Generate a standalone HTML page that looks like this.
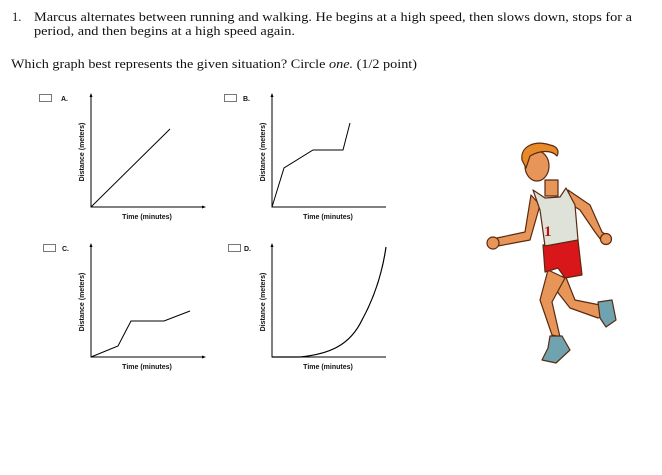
<!DOCTYPE html>
<html><head><meta charset="utf-8"><style>
html,body{margin:0;padding:0;background:#fff;}
svg{display:block}
.t{font-family:"Liberation Serif",serif;font-size:12.5px;fill:#111}
.l{font-family:"Liberation Sans",sans-serif;font-size:7px;font-weight:bold;fill:#111}
</style></head><body>
<svg width="662" height="475" viewBox="0 0 662 475" xmlns="http://www.w3.org/2000/svg">
<text class="t" x="12" y="21">1.</text>
<text class="t" x="34" y="21" textLength="598" lengthAdjust="spacingAndGlyphs">Marcus alternates between running and walking.  He begins at a high speed, then slows down, stops for a</text>
<text class="t" x="34" y="35" textLength="261" lengthAdjust="spacingAndGlyphs">period, and then begins at a high speed again.</text>
<text class="t" x="11" y="68" textLength="406" lengthAdjust="spacingAndGlyphs">Which graph best represents the given situation? Circle <tspan font-style="italic">one.</tspan> (1/2 point)</text>

<g fill="none" stroke="#777" stroke-width="1">
<rect x="39.5" y="94.5" width="12" height="7"/>
<rect x="224.5" y="94.5" width="12" height="7"/>
<rect x="43.5" y="244.5" width="12" height="7"/>
<rect x="228.5" y="244.5" width="12" height="7"/>
</g>
<text class="l" x="61" y="101">A.</text>
<text class="l" x="243" y="101">B.</text>
<text class="l" x="62" y="251">C.</text>
<text class="l" x="244" y="251">D.</text>

<g stroke="#000" stroke-width="1" fill="none">
<path d="M91 95V207H204"/><path d="M272 95V207H386"/>
<path d="M91 245V357H204"/><path d="M272 245V357H386"/>
<path d="M91 207L170 129"/>
<path d="M272 207L284 168L313 150L343 150L350 123"/>
<path d="M91 357L118 346L131 321L164 321L190 311"/>
<path d="M272 357L300 357C330 354 350 345 362 320C374 298 382 275 386 247" stroke-width="1.2"/>
</g>
<g fill="#000">
<path d="M89.5 97L91 93L92.5 97Z"/><path d="M270.5 97L272 93L273.5 97Z"/>
<path d="M89.5 247L91 243L92.5 247Z"/><path d="M270.5 247L272 243L273.5 247Z"/>
<path d="M202 205.5L206 207L202 208.5Z"/><path d="M202 355.5L206 357L202 358.5Z"/>
</g>
<text class="l" x="147" y="219" text-anchor="middle">Time (minutes)</text>
<text class="l" x="328" y="219" text-anchor="middle">Time (minutes)</text>
<text class="l" x="147" y="369" text-anchor="middle">Time (minutes)</text>
<text class="l" x="328" y="369" text-anchor="middle">Time (minutes)</text>
<text class="l" transform="translate(84,152) rotate(-90)" text-anchor="middle">Distance (meters)</text>
<text class="l" transform="translate(265,152) rotate(-90)" text-anchor="middle">Distance (meters)</text>
<text class="l" transform="translate(84,302) rotate(-90)" text-anchor="middle">Distance (meters)</text>
<text class="l" transform="translate(265,302) rotate(-90)" text-anchor="middle">Distance (meters)</text>

<!-- runner -->
<g stroke="#5a2a10" stroke-width="1.2" stroke-linejoin="round">
<path d="M565 275L575 300L600 305L605 315L598 318L570 308L552 285Z" fill="#e8955a"/>
<path d="M598 302L612 300L616 320L606 327L600 318Z" fill="#6fa3b0"/>
<path d="M548 270L540 300L552 335L560 337L552 302L565 278Z" fill="#e8955a"/>
<path d="M550 336L562 336L570 350L556 363L542 360L548 348Z" fill="#6fa3b0"/>
<path d="M531 195L525 232L497 238L498 246L530 240L540 205Z" fill="#e8955a"/>
<path d="M568 190L590 205L602 232L608 236L601 240L595 232L580 210L572 205Z" fill="#e8955a"/>
<circle cx="493" cy="243" r="6" fill="#e8955a"/>
<circle cx="606" cy="239" r="5.5" fill="#e8955a"/>
<path d="M543 245L578 240L582 275L565 278L558 268L545 272Z" fill="#d9161a"/>
<path d="M533 190L545 198L560 197L566 188L575 205L578 240L545 246L540 210Z" fill="#dfe2d8"/>
<text x="544" y="236" font-family="Liberation Serif,serif" font-size="15" font-weight="bold" fill="#c01010" stroke="none">1</text>
<path d="M545 180L545 196L558 196L558 180Z" fill="#e8955a"/>
<ellipse cx="537" cy="166" rx="12" ry="15" fill="#e8955a"/>
<path d="M522 160C520 146 535 140 550 145C556 146 560 150 557 156C552 150 540 150 530 156L526 168Z" fill="#e88a2a"/>
</g>
</svg>
</body></html>
